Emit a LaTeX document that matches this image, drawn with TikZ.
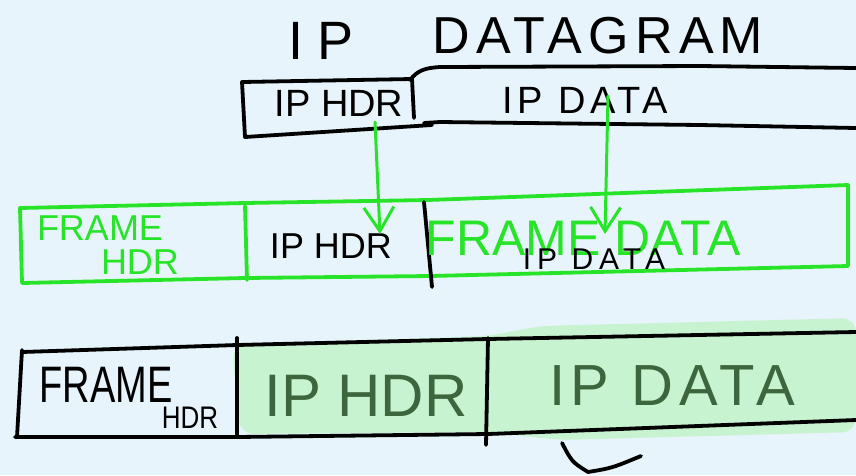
\documentclass[tikz,border=0pt]{standalone}
\usepackage{fontspec}
\setmainfont{Liberation Sans}
\usetikzlibrary{arrows.meta}
\definecolor{bg}{RGB}{232,244,251}
\definecolor{brgreen}{RGB}{40,228,40}
\definecolor{dkgreen}{RGB}{62,102,62}
\definecolor{hl}{RGB}{200,243,208}
\begin{document}
\begin{tikzpicture}[x=1pt,y=-1pt,line cap=round,line join=round,
  ink/.style={draw=black,line width=3.8pt},
  gink/.style={draw=brgreen,line width=3.8pt},
  garrow/.style={draw=brgreen,line width=3pt,-{Straight Barb[length=24pt,width=30pt,line width=3pt]}},
  lbl/.style={inner sep=0pt,anchor=center},
  f/.style={font=\fontsize{#1}{#1}\selectfont}]
\fill[bg] (0,0) rectangle (856,475);
\useasboundingbox (0,0) rectangle (856,475);

% ---------- title
\node[lbl,f=54] (tip) at (321,41) {\addfontfeature{LetterSpace=25}IP};
\node[lbl,f=52] (tdg) at (598,36) {\addfontfeature{LetterSpace=12}DATAGRAM};

% ---------- top datagram
\draw[ink] (412,79) -- (242,82) -- (245,137) -- (432,125);
\draw[ink] (412,79) -- (414,118);
\draw[ink] (410,80) .. controls (418,70) and (425,68) .. (440,67) -- (700,66) -- (856,68);
\draw[ink] (424,123) -- (440,122) -- (700,125) -- (856,128);
\node[lbl,f=38] (thdr) at (339,103) {IP HDR};
\node[lbl,f=38] (tdata) at (585,100) {\addfontfeature{LetterSpace=12}IP DATA};

% ---------- middle frame
\draw[gink] (20,208) -- (245,203) -- (428,200) -- (848,185) -- (848,266) -- (430,276) -- (245,278) -- (22,283) -- cycle;
\draw[gink] (245,206) -- (247,280);
\draw[ink] (424,202) -- (432,287);
\node[lbl,f=36,text=brgreen] (mfr) at (100,228) {FRAME};
\node[lbl,f=36,text=brgreen] (mhd) at (140,262) {HDR};
\node[lbl,f=36] (mhdr) at (331,246) {IP HDR};
\node[lbl,f=50,text=brgreen] (mfd) at (583,238) {FRAME DATA};
\node[lbl,f=30] (mdata) at (594,259) {\addfontfeature{LetterSpace=20}IP DATA};

% ---------- arrows
\coordinate (a1s) at (375,122);
\coordinate (a1e) at (380,234);
\coordinate (a2s) at (608,96);
\coordinate (a2e) at (605,234);
\draw[garrow] (a1s) -- (a1e);
\draw[garrow] (a2s) -- (a2e);

% ---------- bottom frame
\fill[hl,rounded corners=14pt] (232,345) -- (488,336) -- (540,326) -- (856,318) -- (856,432) -- (560,440) -- (488,432) -- (240,434) -- cycle;
\draw[ink] (22,352) -- (237,345) -- (488,339) -- (856,332);
\draw[ink] (15,437) -- (237,437) -- (488,434) -- (856,420);
\draw[ink] (22,350) -- (17,437);
\draw[ink] (237,338) -- (237,437);
\draw[ink] (488,338) -- (486,445);
\node[lbl,f=38,yscale=1.35,transform shape] (bfr) at (106,385) {FRAME};
\node[lbl,f=26,yscale=1.2,transform shape] (bhd) at (190,418) {HDR};
\node[lbl,f=60,text=dkgreen] (bhdr) at (366,396) {IP HDR};
\node[lbl,f=58,text=dkgreen] (bdata) at (672,386) {\addfontfeature{LetterSpace=10}IP DATA};

% ---------- brace stroke
\coordinate (br1) at (562,443);
\coordinate (br2) at (588,472);
\coordinate (br3) at (641,456);
\draw[ink] (br1) .. controls (572,462) .. (br2) .. controls (612,468) .. (br3);
\end{tikzpicture}
\end{document}
